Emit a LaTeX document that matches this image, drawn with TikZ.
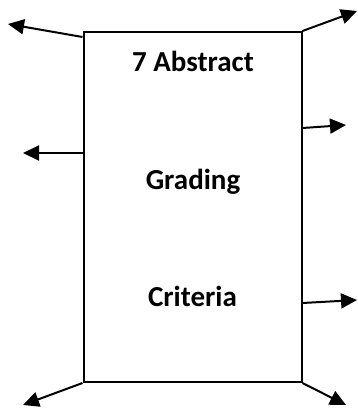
\documentclass[tikz,border=0pt]{standalone}
\usepackage{fontspec}
\setmainfont{Carlito}
\usetikzlibrary{shapes,arrows.meta}

\tikzset{
	panel/.style={draw, line width=2pt, minimum width=218pt, minimum height=350pt, inner sep=0pt},
	label/.style={anchor=base, font=\fontsize{29}{34}\selectfont\bfseries},
	outarrow/.style={line width=2pt, -{Triangle[length=16pt,width=15pt]}}
}

\begin{document}
\begin{tikzpicture}[x=1pt,y=-1pt]
		\useasboundingbox (0,0) rectangle (358,410);

		\node (box) [panel] at (192.5,207) {};

		\node (abs) [label] at (193,71.5) {7 Abstract};
		\node (grad) [label] at (193,189) {Grading};
		\node (crit) [label] at (192.5,306.5) {Criteria};

		\coordinate (tl) at (8,24);
		\coordinate (tr) at (357,11);
		\coordinate (ml) at (23,153);
		\coordinate (mr) at (346,125);
		\coordinate (lr) at (357,300);
		\coordinate (bl) at (23,405);
		\coordinate (br) at (346,405);

		\draw[outarrow] ([yshift=-6pt]box.north west) -- (tl);
		\draw[outarrow] (box.north east) -- (tr);
		\draw[outarrow] ([yshift=54pt]box.west) -- (ml);
		\draw[outarrow] ([yshift=79pt]box.east) -- (mr);
		\draw[outarrow] ([yshift=-96pt]box.east) -- (lr);
		\draw[outarrow] (box.south west) -- (bl);
		\draw[outarrow] (box.south east) -- (br);
\end{tikzpicture}
\end{document}
